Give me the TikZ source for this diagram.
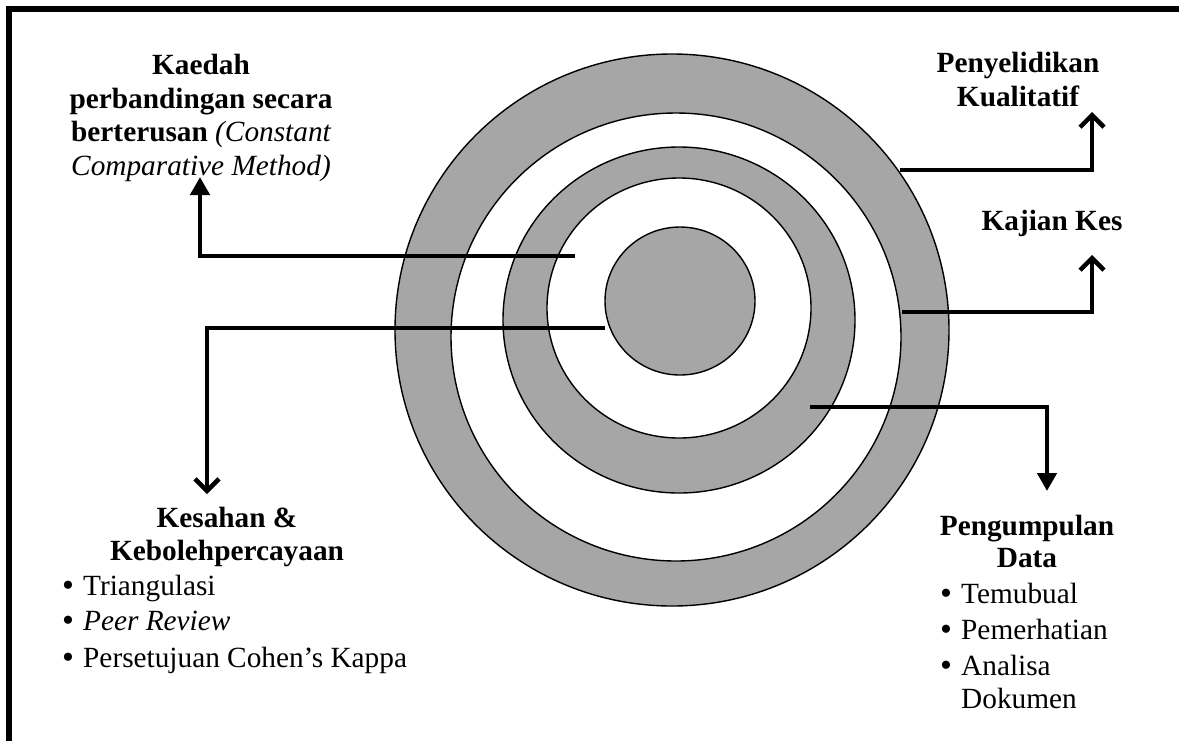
\documentclass[tikz,border=0pt]{standalone}
\usepackage{fontspec}
\setmainfont{Liberation Serif}
\usetikzlibrary{arrows.meta,shapes.geometric}
\definecolor{ringgray}{RGB}{166,166,166}
\tikzset{
  ring/.style={ellipse, draw=black, line width=1.4pt, inner sep=0pt},
  conn/.style={line width=4.5pt},
  solidtip/.style={-{Triangle[length=18pt,width=19pt]}},
  bartip/.style={-{Straight Barb[length=12pt,width=24pt]}},
  head/.style={font=\fontsize{29.3}{33.5}\selectfont\bfseries, align=center, inner sep=0pt, anchor=base},
  listtext/.style={font=\fontsize{29.3}{36}\selectfont, align=left, inner sep=0pt, anchor=base west},
}
\newcommand{\bul}{\makebox[18pt][l]{\hspace*{-3pt}\raisebox{-1pt}{\fontsize{34}{34}\selectfont\textbullet}}}
\begin{document}
\begin{tikzpicture}[x=1pt,y=-1pt]
\useasboundingbox (0,0) rectangle (1179,740);
\clip (0,0) rectangle (1179,740);
\fill[white] (0,0) rectangle (1179,740);
% frame
\draw[line width=5.5pt] (9,760) -- (9,9) -- (1200,9);
% rings
\node[ring, fill=ringgray, minimum width=554pt, minimum height=552pt] (c1) at (672,330) {};
\node[ring, fill=white, minimum width=450pt, minimum height=448pt] (c2) at (676,337) {};
\node[ring, fill=ringgray, minimum width=352pt, minimum height=346pt] (c3) at (679,320) {};
\node[ring, fill=white, minimum width=264pt, minimum height=260pt] (c4) at (679,308) {};
\node[ring, fill=ringgray, minimum width=150pt, minimum height=148pt] (c5) at (680,301) {};
% labels (anchor = baseline of the last line)
\node[head] (kaedah) at (201,175) {Kaedah\\perbandingan secara\\berterusan {\normalfont\itshape (Constant}\\{\normalfont\itshape Comparative Method)}};
\node[head, font=\fontsize{29.3}{34}\selectfont\bfseries] (penyel) at (1018,106) {Penyelidikan\\Kualitatif};
\node[head] (kajian) at (1052,230) {Kajian Kes};
\node[head, font=\fontsize{29.3}{33}\selectfont\bfseries] (kesahan) at (227,560) {Kesahan \&\\Kebolehpercayaan};
\node[listtext] (kesahanlist) at (65,667) {\bul Triangulasi\\[-0.5pt]\bul\textit{Peer Review}\\[0.5pt]\bul Persetujuan Cohen’s Kappa};
\node[head, font=\fontsize{29.3}{32}\selectfont\bfseries] (pengumpulan) at (1027,567) {Pengumpulan\\Data};
\node[listtext] (pengumpulanlist) at (943,708) {\bul Temubual\\\bul Pemerhatian\\\bul Analisa\\[-3pt]\hspace*{18pt}Dokumen};
% connector start points
\coordinate (s1) at (575,256);
\coordinate (s2) at (605,328);
\coordinate (s3) at (900,170);
\coordinate (s4) at (902,312);
\coordinate (s5) at (810,407);
\coordinate (t1) at (200,177);
\coordinate (t2) at (207,494);
\coordinate (t3) at (1092,112);
\coordinate (t4) at (1092,255);
\coordinate (t5) at (1047,491);
% connectors
\draw[conn, solidtip] (s1) -| (t1);
\draw[conn, bartip] (s2) -| (t2);
\draw[conn, bartip] (s3) -| (t3);
\draw[conn, bartip] (s4) -| (t4);
\draw[conn, solidtip] (s5) -| (t5);
\end{tikzpicture}
\end{document}
